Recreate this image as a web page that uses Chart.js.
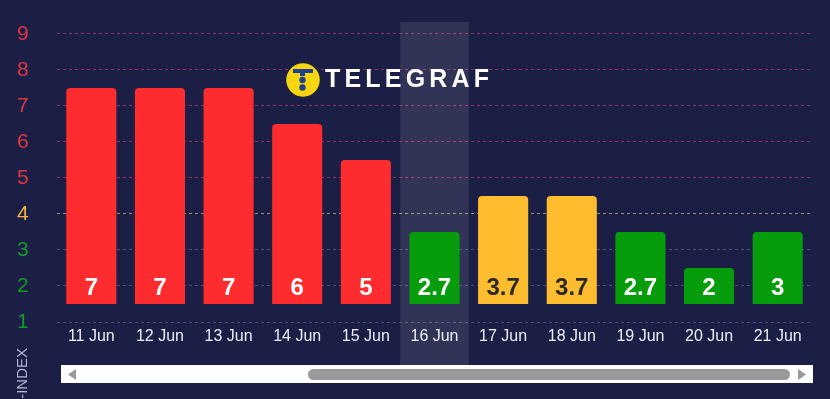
<!DOCTYPE html>
<html>
<head>
<meta charset="utf-8">
<script src="https://cdn.jsdelivr.net/npm/chart.js@4"></script>
<style>
  html, body { margin: 0; padding: 0; background: #1b1e45; }
  #wrap { position: relative; width: 830px; height: 399px; }
</style>
</head>
<body>
<div id="wrap"><canvas id="kpChart"></canvas></div>
<script>
const days = ['11 Jun', '12 Jun', '13 Jun', '14 Jun', '15 Jun', '16 Jun', '17 Jun', '18 Jun', '19 Jun', '20 Jun', '21 Jun'];
const kIndex = [7, 7, 7, 6, 5, 2.7, 3.7, 3.7, 2.7, 2, 3];
const barTops = [7.5, 7.5, 7.5, 6.5, 5.5, 3.5, 4.5, 4.5, 3.5, 2.5, 3.5];
const barBase = 1.5;
const yTicks = [1, 2, 3, 4, 5, 6, 7, 8, 9];
const highlightDay = '16 Jun';

const RED = '#fe2c2e', YELLOW = '#fdbd2f', GREEN = '#079c0c';

function levelColor(v) {
    if (v >= 5) return RED;
    if (v >= 3.5) return YELLOW;
    return GREEN;
}
function tickColor(v) {
    if (v >= 5) return '#de3641';
    if (v >= 4) return '#f2b43c';
    return '#169a26';
}
function gridColor(v) {
    if (v >= 5) return '#9a2f5c';
    if (v >= 4) return '#a28e6c';
    return '#4c5079';
}

// highlighted column behind the bars
const highlightPlugin = {
    id: 'highlight',
    beforeDatasetsDraw(chart) {
        const ctx = chart.ctx;
        const x = chart.scales.x;
        const i = days.indexOf(highlightDay);
        const w = x.getPixelForValue(1) - x.getPixelForValue(0);
        const cx = x.getPixelForValue(i);
        ctx.save();
        ctx.fillStyle = 'rgba(255, 255, 255, 0.1)';
        ctx.fillRect(cx - w / 2, chart.chartArea.top, w, 365 - chart.chartArea.top);
        ctx.restore();
    }
};

// value labels inside bars, logo, axis title, scrollbar
const extrasPlugin = {
    id: 'extras',
    afterDatasetsDraw(chart) {
        const ctx = chart.ctx;
        const meta = chart.getDatasetMeta(0);
        ctx.save();
        ctx.font = 'bold 24px "Liberation Sans", Arial, sans-serif';
        ctx.textAlign = 'center';
        ctx.textBaseline = 'middle';
        meta.data.forEach((bar, i) => {
            ctx.fillStyle = levelColor(kIndex[i]) === YELLOW ? '#2b2a2a' : '#ffffff';
            ctx.fillText(String(kIndex[i]), bar.x, bar.base - 16);
        });
        ctx.restore();
    },
    afterDraw(chart) {
        const ctx = chart.ctx;
        ctx.save();

        // logo
        ctx.beginPath();
        ctx.arc(303, 80, 17.5, 0, Math.PI * 2);
        ctx.fillStyle = '#f7d511';
        ctx.fill();
        ctx.lineWidth = 1.5;
        ctx.strokeStyle = '#20233f';
        ctx.stroke();
        ctx.fillStyle = '#1f3f8f';
        ctx.fillRect(293, 69, 20, 4);
        ctx.fillRect(300, 72, 5, 4);
        ctx.beginPath();
        ctx.arc(302.5, 80, 3.2, 0, Math.PI * 2);
        ctx.arc(302.5, 87.5, 3.2, 0, Math.PI * 2);
        ctx.fill();
        ctx.fillStyle = '#ffffff';
        ctx.font = 'bold 25px "Liberation Sans", Arial, sans-serif';
        ctx.letterSpacing = '4.2px';
        ctx.textAlign = 'left';
        ctx.textBaseline = 'middle';
        ctx.fillText('TELEGRAF', 325, 80);
        ctx.letterSpacing = '0px';

        // axis title, rotated and clipped by the bottom edge
        ctx.translate(23, 348);
        ctx.rotate(-Math.PI / 2);
        ctx.fillStyle = '#b4b8d6';
        ctx.font = '15px "Liberation Sans", Arial, sans-serif';
        ctx.textAlign = 'right';
        ctx.textBaseline = 'middle';
        ctx.fillText('K-INDEX', 0, 0);
        ctx.setTransform(1, 0, 0, 1, 0, 0);

        // scrollbar
        ctx.fillStyle = '#ffffff';
        ctx.fillRect(61, 365, 752, 18);
        ctx.fillStyle = '#9a9a9a';
        ctx.beginPath();
        ctx.roundRect(308, 369, 482, 11, 5.5);
        ctx.fill();
        ctx.beginPath();
        ctx.moveTo(68, 374.5); ctx.lineTo(76, 369); ctx.lineTo(76, 380); ctx.closePath();
        ctx.fill();
        ctx.beginPath();
        ctx.moveTo(806, 374.5); ctx.lineTo(798, 369); ctx.lineTo(798, 380); ctx.closePath();
        ctx.fill();
        ctx.restore();
    }
};

const ctx = document.getElementById('kpChart').getContext('2d');
const kpChart = new Chart(ctx, {
    type: 'bar',
    data: {
        labels: days,
        datasets: [{
            label: 'K-index',
            data: barTops.map(t => [barBase, t]),
            backgroundColor: kIndex.map(levelColor),
            borderRadius: 4,
            borderSkipped: 'start',
            barPercentage: 0.73,
            categoryPercentage: 1
        }]
    },
    options: {
        responsive: true,
        maintainAspectRatio: false,
        animation: false,
        layout: { padding: { top: 22, right: 18, left: 17, bottom: 0 } },
        plugins: {
            legend: { display: false },
            tooltip: { enabled: false }
        },
        scales: {
            x: {
                grid: { display: false, drawTicks: false },
                border: { display: false },
                ticks: {
                    color: '#ecedf5',
                    padding: 5,
                    maxRotation: 0,
                    font: { family: '"Liberation Sans", Arial, sans-serif', size: 16 }
                },
                afterFit(scale) { scale.height = 77; }
            },
            y: {
                min: 1,
                max: 9.333,
                afterBuildTicks(scale) {
                    scale.ticks = yTicks.map(v => ({ value: v }));
                },
                afterFit(scale) { scale.width = 40; },
                border: { display: false, dash: [3, 3] },
                grid: {
                    drawTicks: false,
                    lineWidth: 1,
                    color: yTicks.map(gridColor)
                },
                ticks: {
                    padding: 0,
                    crossAlign: 'far',
                    color: yTicks.map(tickColor),
                    font: { family: '"Liberation Sans", Arial, sans-serif', size: 21 }
                }
            }
        }
    },
    plugins: [highlightPlugin, extrasPlugin]
});
</script>
</body>
</html>
